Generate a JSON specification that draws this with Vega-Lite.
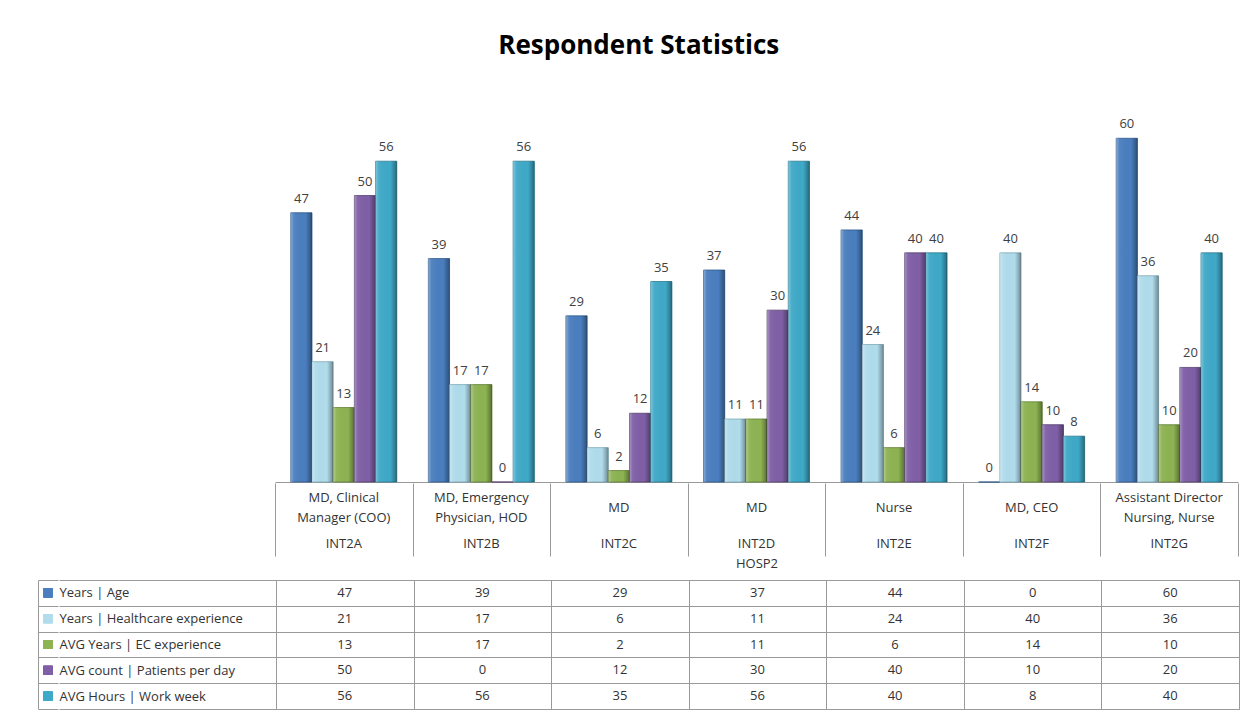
{
  "$schema": "https://vega.github.io/schema/vega-lite/v6.json",
  "background": "white",
  "padding": {"left": 38, "top": 33, "right": 10, "bottom": 0},
  "title": {"text": "Respondent Statistics", "font": "Open Sans", "fontSize": 26, "fontWeight": "bold", "color": "#000000", "anchor": "middle", "offset": 22},
  "config": {"font": "Open Sans", "view": {"stroke": null}},
  "datasets": {
    "values": [
      {"column": "INT2A", "series": "Years | Age", "value": 47},
      {"column": "INT2A", "series": "Years | Healthcare experience", "value": 21},
      {"column": "INT2A", "series": "AVG Years | EC experience", "value": 13},
      {"column": "INT2A", "series": "AVG count | Patients per day", "value": 50},
      {"column": "INT2A", "series": "AVG Hours | Work week", "value": 56},
      {"column": "INT2B", "series": "Years | Age", "value": 39},
      {"column": "INT2B", "series": "Years | Healthcare experience", "value": 17},
      {"column": "INT2B", "series": "AVG Years | EC experience", "value": 17},
      {"column": "INT2B", "series": "AVG count | Patients per day", "value": 0},
      {"column": "INT2B", "series": "AVG Hours | Work week", "value": 56},
      {"column": "INT2C", "series": "Years | Age", "value": 29},
      {"column": "INT2C", "series": "Years | Healthcare experience", "value": 6},
      {"column": "INT2C", "series": "AVG Years | EC experience", "value": 2},
      {"column": "INT2C", "series": "AVG count | Patients per day", "value": 12},
      {"column": "INT2C", "series": "AVG Hours | Work week", "value": 35},
      {"column": "INT2D", "series": "Years | Age", "value": 37},
      {"column": "INT2D", "series": "Years | Healthcare experience", "value": 11},
      {"column": "INT2D", "series": "AVG Years | EC experience", "value": 11},
      {"column": "INT2D", "series": "AVG count | Patients per day", "value": 30},
      {"column": "INT2D", "series": "AVG Hours | Work week", "value": 56},
      {"column": "INT2E", "series": "Years | Age", "value": 44},
      {"column": "INT2E", "series": "Years | Healthcare experience", "value": 24},
      {"column": "INT2E", "series": "AVG Years | EC experience", "value": 6},
      {"column": "INT2E", "series": "AVG count | Patients per day", "value": 40},
      {"column": "INT2E", "series": "AVG Hours | Work week", "value": 40},
      {"column": "INT2F", "series": "Years | Age", "value": 0},
      {"column": "INT2F", "series": "Years | Healthcare experience", "value": 40},
      {"column": "INT2F", "series": "AVG Years | EC experience", "value": 14},
      {"column": "INT2F", "series": "AVG count | Patients per day", "value": 10},
      {"column": "INT2F", "series": "AVG Hours | Work week", "value": 8},
      {"column": "INT2G", "series": "Years | Age", "value": 60},
      {"column": "INT2G", "series": "Years | Healthcare experience", "value": 36},
      {"column": "INT2G", "series": "AVG Years | EC experience", "value": 10},
      {"column": "INT2G", "series": "AVG count | Patients per day", "value": 20},
      {"column": "INT2G", "series": "AVG Hours | Work week", "value": 40}
    ],
    "header": [
      {"id": "INT2A", "role": "MD, Clinical\nManager (COO)"},
      {"id": "INT2B", "role": "MD, Emergency\nPhysician, HOD"},
      {"id": "INT2C", "role": "MD"},
      {"id": "INT2D", "role": "MD"},
      {"id": "INT2E", "role": "Nurse"},
      {"id": "INT2F", "role": "MD, CEO"},
      {"id": "INT2G", "role": "Assistant Director\nNursing, Nurse"}
    ]
  },
  "data": {"name": "values"},
  "spacing": 0,
  "vconcat": [
    {
      "spacing": 0,
      "hconcat": [
        {
          "width": 237,
          "height": 401,
          "data": {"values": []},
          "mark": {"type": "point", "opacity": 0}
        },
        {
          "width": 963,
          "height": 401,
          "encoding": {
            "x": {
              "field": "column", "type": "nominal", "sort": ["INT2A", "INT2B", "INT2C", "INT2D", "INT2E", "INT2F", "INT2G"],
              "scale": {"paddingInner": 0, "paddingOuter": 0},
              "axis": {"title": null, "labels": false, "ticks": false, "domain": true, "domainColor": "#9a9a9a"}
            },
            "xOffset": {"field": "series", "type": "nominal", "sort": ["Years | Age", "Years | Healthcare experience", "AVG Years | EC experience", "AVG count | Patients per day", "AVG Hours | Work week"], "scale": {"paddingInner": 0, "paddingOuter": 0.745}},
            "y": {
              "field": "value", "type": "quantitative",
              "scale": {"domain": [0, 70], "nice": false},
              "axis": null
            }
          },
          "layer": [
            {
              "mark": {"type": "bar", "strokeWidth": 0.8},
              "encoding": {
                "color": {"field": "series", "type": "nominal", "legend": null,
                  "scale": {"domain": ["Years | Age", "Years | Healthcare experience", "AVG Years | EC experience", "AVG count | Patients per day", "AVG Hours | Work week"],
                            "range": ["#4a7ebf", "#b0dcec", "#8db352", "#7f5fa6", "#3fa9c8"]}},
                "stroke": {"field": "series", "type": "nominal", "legend": null,
                  "scale": {"domain": ["Years | Age", "Years | Healthcare experience", "AVG Years | EC experience", "AVG count | Patients per day", "AVG Hours | Work week"],
                            "range": ["#2f5a8c", "#7fa9b8", "#637f36", "#56406f", "#2a7c92"]}}
              }
            },
            {
              "mark": {"type": "bar", "color": {"gradient": "linear", "x1": 0, "y1": 0, "x2": 1, "y2": 0,
                "stops": [
                  {"offset": 0, "color": "rgba(255,255,255,0.35)"},
                  {"offset": 0.15, "color": "rgba(255,255,255,0.05)"},
                  {"offset": 0.7, "color": "rgba(0,0,0,0.0)"},
                  {"offset": 0.85, "color": "rgba(0,0,0,0.18)"},
                  {"offset": 1, "color": "rgba(0,0,0,0.38)"}
                ]}}
            },
            {
              "mark": {"type": "text", "baseline": "bottom", "dy": -7, "fontSize": 13, "color": "#404040"},
              "encoding": {"text": {"field": "value", "type": "quantitative"}}
            }
          ]
        }
      ]
    },
    {
      "spacing": 3,
      "vconcat": [
        {
          "spacing": 0,
          "hconcat": [
            {
              "width": 237,
              "height": 73,
              "data": {"values": []},
              "mark": {"type": "point", "opacity": 0}
            },
            {
              "width": 963,
              "height": 73,
              "data": {"name": "header"},
              "encoding": {
                "x": {"field": "id", "type": "nominal", "sort": ["INT2A", "INT2B", "INT2C", "INT2D", "INT2E", "INT2F", "INT2G"],
                  "scale": {"paddingInner": 0, "paddingOuter": 0},
                  "axis": {"title": "HOSP2", "titleFontSize": 13, "titleFontWeight": "normal", "titleColor": "#333333", "titlePadding": 1,
                           "labels": false, "ticks": false, "domain": false, "grid": true, "gridColor": "#9a9a9a", "gridOpacity": 1, "tickBand": "extent"}}
              },
              "layer": [
                {
                  "transform": [{"filter": "indexof(datum.role, '\\n') >= 0"}],
                  "mark": {"type": "text", "lineBreak": "\n", "lineHeight": 20, "fontSize": 13, "color": "#333333", "dy": -22},
                  "encoding": {"text": {"field": "role"}}
                },
                {
                  "transform": [{"filter": "indexof(datum.role, '\\n') < 0"}],
                  "mark": {"type": "text", "fontSize": 13, "color": "#333333", "dy": -12},
                  "encoding": {"text": {"field": "role"}}
                },
                {
                  "mark": {"type": "text", "fontSize": 13, "color": "#333333", "dy": 24},
                  "encoding": {"text": {"field": "id"}}
                }
              ]
            }
          ]
        },
        {
          "spacing": 0,
          "hconcat": [
            {
              "width": 20,
              "height": 129,
              "mark": {"type": "point", "shape": "square", "filled": true, "size": 81, "opacity": 1},
              "encoding": {
                "y": {"field": "series", "type": "nominal", "sort": ["Years | Age", "Years | Healthcare experience", "AVG Years | EC experience", "AVG count | Patients per day", "AVG Hours | Work week"],
                  "scale": {"paddingInner": 0, "paddingOuter": 0},
                  "axis": {"title": null, "labels": false, "ticks": false, "domain": true, "domainColor": "#9a9a9a", "grid": true, "gridColor": "#9a9a9a", "gridOpacity": 1, "tickBand": "extent"}},
                "color": {"field": "series", "type": "nominal", "legend": null,
                  "scale": {"domain": ["Years | Age", "Years | Healthcare experience", "AVG Years | EC experience", "AVG count | Patients per day", "AVG Hours | Work week"],
                            "range": ["#4a7ebf", "#b0dcec", "#8db352", "#7f5fa6", "#3fa9c8"]}}
              }
            },
            {
              "width": 963,
              "height": 129,
              "view": {"stroke": "#9a9a9a"},
              "mark": {"type": "text", "fontSize": 13, "color": "#333333"},
              "encoding": {
                "x": {"field": "column", "type": "nominal", "sort": ["INT2A", "INT2B", "INT2C", "INT2D", "INT2E", "INT2F", "INT2G"],
                  "scale": {"paddingInner": 0, "paddingOuter": 0},
                  "axis": {"title": null, "labels": false, "ticks": false, "domain": false, "grid": true, "gridColor": "#9a9a9a", "gridOpacity": 1, "tickBand": "extent"}},
                "y": {"field": "series", "type": "nominal", "sort": ["Years | Age", "Years | Healthcare experience", "AVG Years | EC experience", "AVG count | Patients per day", "AVG Hours | Work week"],
                  "scale": {"paddingInner": 0, "paddingOuter": 0},
                  "axis": {"title": null, "labelAlign": "left", "labelPadding": 0, "tickSize": 217, "tickBand": "extent", "tickColor": "#9a9a9a",
                           "domain": false, "grid": true, "gridColor": "#9a9a9a", "gridOpacity": 1, "labelFontSize": 13, "labelColor": "#333333", "labelLimit": 0,
                           "minExtent": 217, "maxExtent": 217}},
                "text": {"field": "value", "type": "quantitative"}
              }
            }
          ]
        }
      ]
    }
  ]
}
